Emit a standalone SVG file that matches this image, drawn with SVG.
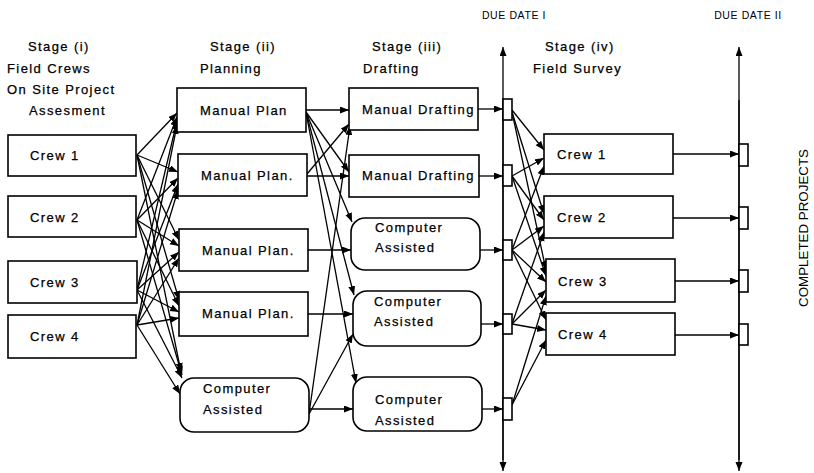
<svg xmlns="http://www.w3.org/2000/svg" width="814" height="473" viewBox="0 0 814 473">
<style>
.bx{fill:#fff;stroke:#000;stroke-width:1.6}
.ln{fill:none;stroke:#000;stroke-width:1.3}
.ar{fill:none;stroke:#000;stroke-width:1.3;marker-end:url(#ah)}
.t{font-family:"Liberation Sans",Arial,sans-serif;font-size:13px;letter-spacing:1.4px;fill:#000;stroke:#000;stroke-width:0.25}
.h{font-family:"Liberation Sans",Arial,sans-serif;font-size:10.5px;letter-spacing:0.6px;fill:#000}
</style>
<defs>
<marker id="ah" markerWidth="10" markerHeight="8" refX="9" refY="3.5" orient="auto" markerUnits="userSpaceOnUse">
<path d="M0,0 L9,3.5 L0,7 z" fill="#000"/>
</marker>
</defs>

<g id="headings">
<text class="t" x="28" y="51">Stage  (i)</text>
<text class="t" x="7" y="73">Field  Crews</text>
<text class="t" x="7" y="94">On  Site  Project</text>
<text class="t" x="29" y="115">Assesment</text>
<text class="t" x="210" y="51">Stage  (ii)</text>
<text class="t" x="200" y="73">Planning</text>
<text class="t" x="372" y="51">Stage  (iii)</text>
<text class="t" x="363" y="73">Drafting</text>
<text class="t" x="545" y="51">Stage  (iv)</text>
<text class="t" x="533" y="73">Field  Survey</text>
<text class="h" x="514" y="19" text-anchor="middle">DUE DATE I</text>
<text class="h" x="748" y="19" text-anchor="middle">DUE DATE II</text>
<text class="h" transform="translate(808,228) rotate(-90)" text-anchor="middle" textLength="158" lengthAdjust="spacingAndGlyphs" style="font-size:12px;letter-spacing:0">COMPLETED PROJECTS</text>
</g>

<g id="connectors">
<!-- stage 1 to stage 2 -->
<path class="ar" d="M137,155 L177,113"/>
<path class="ar" d="M137,155 L178,172"/>
<path class="ar" d="M137,155 L179,240"/>
<path class="ar" d="M137,155 L179,300"/>
<path class="ar" d="M137,155 L181,372"/>
<path class="ar" d="M137,220 L177,117"/>
<path class="ar" d="M137,220 L178,178"/>
<path class="ar" d="M137,220 L179,246"/>
<path class="ar" d="M137,220 L179,306"/>
<path class="ar" d="M137,220 L182,375"/>
<path class="ar" d="M137,290 L177,121"/>
<path class="ar" d="M137,290 L178,184"/>
<path class="ar" d="M137,290 L179,252"/>
<path class="ar" d="M137,290 L179,312"/>
<path class="ar" d="M137,290 L182,378"/>
<path class="ar" d="M137,325 L177,125"/>
<path class="ar" d="M137,325 L178,190"/>
<path class="ar" d="M137,325 L179,258"/>
<path class="ar" d="M137,325 L179,318"/>
<path class="ar" d="M137,325 L180,394"/>
<!-- stage 2 to stage 3 -->
<path class="ar" d="M306,110 L349,110"/>
<path class="ar" d="M306,112 L349,172"/>
<path class="ar" d="M306,112 L352,222"/>
<path class="ar" d="M306,112 L354,295"/>
<path class="ar" d="M306,112 L356,383"/>
<path class="ar" d="M307,176 L349,176"/>
<path class="ar" d="M307,174 L349,124"/>
<path class="ar" d="M308,250 L351,250"/>
<path class="ar" d="M308,314 L353,314"/>
<path class="ar" d="M309,409 L353,409"/>
<path class="ar" d="M309,414 L353,334"/>
<path class="ar" d="M309,414 L350,126"/>
<!-- stage 3 to due date I -->
<path class="ar" d="M478,109 L503,109"/>
<path class="ar" d="M479,176 L503,176"/>
<path class="ar" d="M480,250 L503,250"/>
<path class="ar" d="M481,324 L503,324"/>
<path class="ar" d="M482,409 L503,409"/>
<!-- due date I to stage 4 -->
<path class="ar" d="M512,110 L544,150"/>
<path class="ar" d="M512,112 L544,214"/>
<path class="ar" d="M512,112 L546,270"/>
<path class="ar" d="M512,176 L544,158"/>
<path class="ar" d="M512,176 L544,220"/>
<path class="ar" d="M512,176 L546,276"/>
<path class="ar" d="M512,250 L544,166"/>
<path class="ar" d="M512,250 L544,226"/>
<path class="ar" d="M512,250 L546,282"/>
<path class="ar" d="M512,250 L546,320"/>
<path class="ar" d="M512,324 L544,232"/>
<path class="ar" d="M512,324 L546,290"/>
<path class="ar" d="M512,324 L546,330"/>
<path class="ar" d="M512,405 L546,296"/>
<path class="ar" d="M512,405 L546,340"/>
<!-- stage 4 to due date II -->
<path class="ar" d="M673,154 L739,154"/>
<path class="ar" d="M673,218 L739,218"/>
<path class="ar" d="M675,281 L739,281"/>
<path class="ar" d="M675,335 L739,335"/>
<!-- due date time lines -->
<path class="ar" d="M503,460 L503,47"/>
<path class="ar" d="M503,100 L503,471"/>
<path class="ar" d="M739,460 L739,47"/>
<path class="ar" d="M739,100 L739,471"/>
</g>

<g id="s1-crew1"><rect class="bx" x="8" y="135" width="128" height="41"/><text class="t" x="30" y="160">Crew  1</text></g>
<g id="s1-crew2"><rect class="bx" x="8" y="196" width="128" height="41"/><text class="t" x="30" y="222">Crew  2</text></g>
<g id="s1-crew3"><rect class="bx" x="8" y="261" width="129" height="42"/><text class="t" x="30" y="287">Crew  3</text></g>
<g id="s1-crew4"><rect class="bx" x="8" y="315" width="128" height="43"/><text class="t" x="30" y="341">Crew  4</text></g>

<g id="s2-plan1"><rect class="bx" x="177" y="88" width="129" height="44"/><text class="t" x="200" y="115">Manual  Plan</text></g>
<g id="s2-plan2"><rect class="bx" x="178" y="154" width="129" height="42"/><text class="t" x="201" y="180">Manual  Plan.</text></g>
<g id="s2-plan3"><rect class="bx" x="179" y="229" width="129" height="42"/><text class="t" x="202" y="255">Manual  Plan.</text></g>
<g id="s2-plan4"><rect class="bx" x="179" y="292" width="129" height="44"/><text class="t" x="202" y="318">Manual  Plan.</text></g>
<g id="s2-computer"><rect class="bx" x="180" y="378" width="129" height="54" rx="14"/><text class="t" x="203" y="393">Computer</text><text class="t" x="203" y="414">Assisted</text></g>

<g id="s3-draft1"><rect class="bx" x="349" y="88" width="129" height="42"/><text class="t" x="362" y="114">Manual  Drafting</text></g>
<g id="s3-draft2"><rect class="bx" x="349" y="155" width="130" height="42"/><text class="t" x="362" y="180">Manual  Drafting</text></g>
<g id="s3-computer1"><rect class="bx" x="351" y="218" width="129" height="52" rx="14"/><text class="t" x="375" y="232">Computer</text><text class="t" x="375" y="252">Assisted</text></g>
<g id="s3-computer2"><rect class="bx" x="353" y="291" width="128" height="55" rx="14"/><text class="t" x="374" y="306">Computer</text><text class="t" x="374" y="326">Assisted</text></g>
<g id="s3-computer3"><rect class="bx" x="353" y="377" width="129" height="54" rx="14"/><text class="t" x="375" y="404">Computer</text><text class="t" x="375" y="425">Assisted</text></g>

<g id="due1-boxes">
<rect class="bx" x="503" y="99" width="9" height="21"/>
<rect class="bx" x="503" y="165" width="9" height="21"/>
<rect class="bx" x="503" y="240" width="9" height="20"/>
<rect class="bx" x="503" y="314" width="9" height="20"/>
<rect class="bx" x="503" y="398" width="9" height="22"/>
</g>

<g id="s4-crew1"><rect class="bx" x="544" y="134" width="129" height="40"/><text class="t" x="557" y="159">Crew  1</text></g>
<g id="s4-crew2"><rect class="bx" x="544" y="196" width="129" height="42"/><text class="t" x="557" y="222">Crew  2</text></g>
<g id="s4-crew3"><rect class="bx" x="546" y="259" width="129" height="43"/><text class="t" x="558" y="286">Crew  3</text></g>
<g id="s4-crew4"><rect class="bx" x="546" y="313" width="129" height="42"/><text class="t" x="558" y="339">Crew  4</text></g>

<g id="due2-boxes">
<rect class="bx" x="739" y="144" width="9" height="22"/>
<rect class="bx" x="739" y="207" width="9" height="22"/>
<rect class="bx" x="739" y="270" width="9" height="22"/>
<rect class="bx" x="739" y="324" width="9" height="21"/>
</g>
</svg>
